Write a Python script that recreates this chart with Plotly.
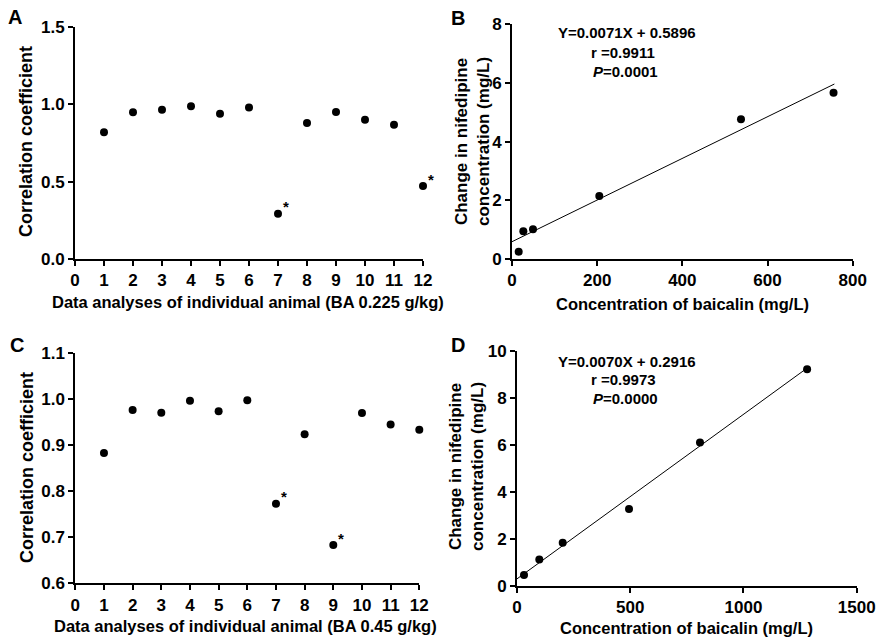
import plotly.graph_objects as go

# ---------------- data ----------------
animals = list(range(1, 13))
corr_a = [0.818, 0.947, 0.964, 0.986, 0.938, 0.979, 0.292, 0.878, 0.949, 0.899, 0.867, 0.471]
corr_c = [0.883, 0.977, 0.971, 0.997, 0.974, 0.998, 0.773, 0.924, 0.683, 0.970, 0.945, 0.934]
star_a = [7, 12]
star_c = [7, 9]

baicalin_b = [15.7, 26.6, 49.3, 205, 537.7, 755]
nifed_b = [0.25, 0.95, 1.01, 2.15, 4.76, 5.67]
slope_b, icpt_b, r_b, p_b = 0.0071, 0.5896, "0.9911", "0.0001"
line_x_b = [0, 757]

baicalin_d = [30.9, 98.5, 201.8, 494.7, 808, 1281]
nifed_d = [0.455, 1.12, 1.83, 3.26, 6.09, 9.21]
slope_d, icpt_d, r_d, p_d = 0.0070, 0.2916, "0.9973", "0.0000"
line_x_d = [0, 1290]

FONT = "Liberation Sans, Arial, sans-serif"
W, H = 876, 640

def px(x):
    return x / W

def py(y):
    return 1 - y / H

fig = go.Figure()

# panel geometry in pixels (left, right, bottom, top)
panels = {
    "A": dict(x=(75, 423), y=(259, 26.7), xr=[0, 12], yr=[0, 1.5], xt=list(range(0, 13)), yt=[0, 0.5, 1.0, 1.5], yf=".1f"),
    "B": dict(x=(512, 852.7), y=(259, 24.3), xr=[0, 800], yr=[0, 8], xt=[0, 200, 400, 600, 800], yt=[0, 2, 4, 6, 8], yf=""),
    "C": dict(x=(75.3, 419.3), y=(583.3, 353.3), xr=[0, 12], yr=[0.6, 1.1], xt=list(range(0, 13)), yt=[0.6, 0.7, 0.8, 0.9, 1.0, 1.1], yf=".1f"),
    "D": dict(x=(517, 856.7), y=(585.7, 350.7), xr=[0, 1500], yr=[0, 10], xt=[0, 500, 1000, 1500], yt=[0, 2, 4, 6, 8, 10], yf=""),
}
axis_ids = {"A": ("x", "y"), "B": ("x2", "y2"), "C": ("x3", "y3"), "D": ("x4", "y4")}

layout_axes = {}
for k, p in panels.items():
    xa, ya = axis_ids[k]
    xname = "xaxis" if xa == "x" else "xaxis" + xa[1:]
    yname = "yaxis" if ya == "y" else "yaxis" + ya[1:]
    common = dict(showgrid=False, zeroline=False, showline=True, linecolor="black", linewidth=2,
                  ticks="outside", ticklen=5, tickwidth=2, tickcolor="black", automargin=False,
                  tickfont=dict(family=FONT, size=17, color="black", weight="bold"))
    layout_axes[xname] = dict(common, domain=[px(p["x"][0]), px(p["x"][1])], range=p["xr"],
                              tickvals=p["xt"], anchor=ya)
    layout_axes[yname] = dict(common, domain=[py(p["y"][0]), py(p["y"][1])], range=p["yr"],
                              tickvals=p["yt"], tickformat=p["yf"], anchor=xa)

mk = dict(color="black", size=8)
fig.add_trace(go.Scatter(x=animals, y=corr_a, mode="markers", marker=mk, xaxis="x", yaxis="y", cliponaxis=False))
fig.add_trace(go.Scatter(x=baicalin_b, y=nifed_b, mode="markers", marker=mk, xaxis="x2", yaxis="y2", cliponaxis=False))
fig.add_trace(go.Scatter(x=line_x_b, y=[slope_b * v + icpt_b for v in line_x_b], mode="lines",
                         line=dict(color="black", width=1), xaxis="x2", yaxis="y2"))
fig.add_trace(go.Scatter(x=animals, y=corr_c, mode="markers", marker=mk, xaxis="x3", yaxis="y3", cliponaxis=False))
fig.add_trace(go.Scatter(x=baicalin_d, y=nifed_d, mode="markers", marker=mk, xaxis="x4", yaxis="y4", cliponaxis=False))
fig.add_trace(go.Scatter(x=line_x_d, y=[slope_d * v + icpt_d for v in line_x_d], mode="lines",
                         line=dict(color="black", width=1), xaxis="x4", yaxis="y4"))

ann = []

def text(x, y, t, size=16.5, angle=0, xref="paper", yref="paper", xshift=0, yshift=0):
    ann.append(dict(x=x, y=y, xref=xref, yref=yref, text=t, showarrow=False, textangle=angle,
                    xanchor="center", yanchor="middle", xshift=xshift, yshift=yshift,
                    font=dict(family=FONT, size=size, color="black", weight="bold")))

# panel letters
text(px(15), py(17), "A", 20)
text(px(458), py(18), "B", 20)
text(px(17), py(345), "C", 20)
text(px(458), py(345), "D", 20)

# axis titles
text(px(248), py(302), "Data analyses of individual animal (BA 0.225 g/kg)")
text(px(245), py(626), "Data analyses of individual animal (BA 0.45 g/kg)")
text(px(682), py(304), "Concentration of baicalin (mg/L)")
text(px(686), py(628), "Concentration of baicalin (mg/L)")
text(px(26), py(142), "Correlation coefficient", 18, angle=-90)
text(px(27), py(468), "Correlation coefficient", 18, angle=-90)
text(px(472), py(142), "Change in nifedipine<br>concentration (mg/L)", 17, angle=-90)
text(px(466), py(467), "Change in nifedipine<br>concentration (mg/L)", 17, angle=-90)

# regression annotations
for cx, rows, vals in [(627, (33, 53, 71), (slope_b, icpt_b, r_b, p_b)),
                       (627, (361, 379.5, 398.5), (slope_d, icpt_d, r_d, p_d))]:
    s, b, r, p = vals
    text(px(cx), py(rows[0]), f"Y={s:.4f}X + {b:.4f}", 15)
    text(px(cx - 4), py(rows[1]), f"r ={r}", 15)
    text(px(cx - 2), py(rows[2]), f"<i>P</i>={p}", 15)

# asterisks
for i in star_a:
    text(i, corr_a[i - 1], "*", 15, xref="x", yref="y", xshift=8, yshift=7)
for i in star_c:
    text(i, corr_c[i - 1], "*", 15, xref="x3", yref="y3", xshift=8, yshift=7)

fig.update_layout(width=W, height=H, margin=dict(l=0, r=0, t=0, b=0, pad=0), showlegend=False,
                  autosize=False, plot_bgcolor="white", paper_bgcolor="white", annotations=ann, **layout_axes)

fig.write_html("out.html", config={"displayModeBar": False},
               post_script="document.body.style.margin='0px';document.body.style.overflow='hidden';")
